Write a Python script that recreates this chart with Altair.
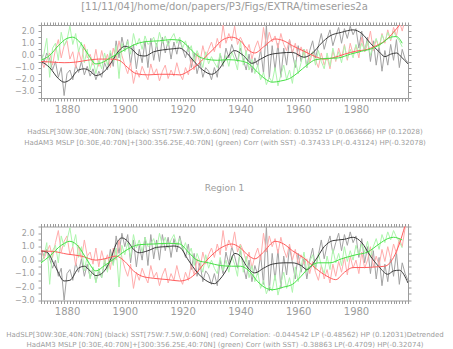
import altair as alt
import pandas as pd

years = list(range(1871, 1999))
green_years = list(range(1871, 1997))

# ---------------- Panel 1 (annual values) ----------------
p1_black = [0.3, -0.6, 0.2, -0.3, -1.2, -0.5, -1.8, -1.0, -3.3, -1.5,
            -1.2, -2.0, -0.8, -1.4, -0.5, -1.6, -0.9, -1.7, -1.1, -2.0,
            -1.3, -1.8, -0.6, -1.2, 0.2, -0.9, 1.2, -0.2, 1.5, 0.4,
            1.3, -0.8, 0.9, -1.1, 0.5, -0.6, 1.2, -1.0, 1.4, -0.4,
            1.0, -0.5, 1.5, 0.2, 1.2, -0.3, 1.1, 0.1, 1.3, 0.5,
            -0.2, 0.8, -1.0, 0.2, -1.5, -0.5, -1.8, -1.0, -1.3, -2.0,
            -1.0, -1.8, 0.1, -0.9, 0.6, -0.2, 0.9, 0.2, -0.5, 0.6,
            -0.3, -1.2, 0.1, -1.4, -0.2, -0.9, 0.5, -1.5, 2.5, -1.9,
            0.8, -1.2, 1.0, -1.8, 0.6, -0.8, 1.3, 0.2, -1.0, 0.8,
            -0.5, 0.5, -1.0, 0.4, 1.2, -0.2, 0.8, 1.8, 0.5, 1.4,
            2.1, 0.8, 1.6, 2.3, 1.0, 2.2, 1.4, 2.4, 1.7, 2.2,
            0.6, 2.0, 0.3, 1.5, -0.5, 1.2, -0.8, 0.8, -1.3, 0.4,
            -0.8, 0.9, -0.4, 1.3, -1.0, 0.5, -0.3, -0.6]
p1_red = [-0.3, -1.0, -0.4, 0.2, -0.8, 0.5, 1.3, -0.2, 0.8, 1.2,
          -0.3, 0.3, -1.0, 0.4, -0.5, 0.9, -0.2, 0.1, -0.8, 0.5,
          -0.9, 0.4, -0.6, 0.1, -1.0, 0.6, -0.3, 1.2, 0.0, -0.8,
          -1.5, -0.6, -2.3, -1.2, -1.8, -0.9, -1.5, -2.0, -0.7, -1.6,
          -1.1, -2.1, -1.3, -0.8, -1.9, -1.2, -1.7, -0.6, -1.5, -2.0,
          -1.0, -1.6, -0.3, -1.2, 0.2, -0.6, 0.8, -0.2, 0.5, 1.1,
          0.3, 1.4, 0.6, 2.5, 1.0, 1.8, 1.2, 2.4, 0.9, 1.5,
          1.0, 0.2, 0.9, -0.3, 0.6, 1.2, 0.3, 2.3, 0.8, 1.9,
          1.1, 1.6, 0.6, 1.8, 0.9, 0.4, 1.3, 0.2, 1.0, -0.1,
          0.7, 0.0, 0.5, -0.6, 0.3, -0.4, -1.0, 0.2, -0.8, -0.1,
          -1.1, 0.4, -0.5, 0.6, -0.2, 0.9, -0.4, 1.0, 0.1, 0.8,
          -0.2, 1.5, 0.3, 0.9, 2.0, 0.4, 1.3, 0.6, 1.8, 1.0,
          2.1, 1.2, 2.3, 1.6, 2.8, 2.0, 3.0, 3.2]
p1_green = [-0.5, 0.1, 1.4, -1.8, 0.6, 1.0, -0.4, 1.9, 0.8, 1.3,
            2.4, 0.9, 1.8, 0.3, 1.1, -0.6, 0.5, -1.2, -0.3, -1.5,
            -0.4, -1.1, 0.2, -0.8, 0.4, -0.5, 0.8, -1.9, 1.0, 0.3,
            1.2, 0.1, 1.8, 0.8, 1.4, 0.5, 1.6, 0.9, 1.1, 1.5,
            0.7, 1.9, 1.0, 1.6, 0.8, 1.4, 1.8, 1.0, 1.5, 0.6,
            1.2, 0.3, 0.8, -0.5, 0.4, -0.2, -1.0, 0.3, -0.7, -0.1,
            -0.6, -1.0, 0.2, -0.8, 0.0, -0.9, 0.3, -0.3, -1.2, 1.2,
            -0.8, 0.4, -1.2, -0.3, -1.5, -0.8, -2.0, -1.4, -2.4, -1.8,
            -2.2, -1.0, -2.5, -1.6, -0.8, -2.0, -1.2, -2.3, -0.4, -1.5,
            -0.6, 0.5, -1.0, -0.2, 0.3, -0.8, 0.4, -0.5, -1.1, 0.2,
            -0.9, 0.6, -0.4, 0.3, -0.6, 0.8, -0.3, 0.5, -0.2, 0.9,
            0.2, 1.0, 0.4, 1.2, 0.0, 0.8, 1.4, 0.6, 1.7, 1.1,
            1.9, 1.3, 2.0, 1.5, 1.2, 0.7]

# smooth (low-pass) curves, panel 1
p1_black_s_years = [1871, 1874, 1877, 1879, 1881, 1884, 1886, 1888, 1890, 1892, 1895, 1898, 1900, 1902,
                    1905, 1907, 1910, 1913, 1917, 1919, 1921, 1924, 1927, 1930, 1932, 1935, 1938, 1941,
                    1944, 1947, 1950, 1954, 1958, 1962, 1965, 1968, 1971, 1975, 1979, 1982, 1985, 1988,
                    1990, 1992, 1994, 1996, 1998]
p1_black_s = [-0.5, -1.0, -1.9, -2.2, -2.0, -1.2, -1.1, -1.3, -1.65, -1.5, -0.7, 0.4, 0.75, 0.6,
              0.0, -0.05, 0.3, 0.45, 0.55, 0.6, 0.3, -0.5, -1.2, -1.55, -1.3, -0.3, 0.4, 0.0,
              -0.65, -0.3, 0.05, 0.2, 0.25, -0.15, 0.2, 1.0, 1.6, 1.9, 2.1, 1.8, 1.0, 0.3,
              -0.1, 0.1, 0.2, -0.2, -0.7]
p1_red_s_years = [1871, 1875, 1879, 1883, 1887, 1891, 1895, 1898, 1901, 1904, 1908, 1912, 1916, 1919,
                  1922, 1925, 1928, 1931, 1934, 1937, 1940, 1943, 1945, 1948, 1952, 1955, 1958, 1962,
                  1966, 1969, 1972, 1976, 1980, 1984, 1987, 1990, 1993, 1995, 1997]
p1_red_s = [-0.5, -0.55, -0.6, -0.55, -0.4, -0.3, -0.3, -0.4, -1.0, -1.5, -1.6, -1.55, -1.55, -1.6,
            -1.3, -0.8, -0.1, 0.6, 1.3, 1.5, 1.2, 0.4, 0.2, 0.7, 1.35, 1.2, 0.8, 0.35,
            -0.1, -0.3, -0.2, 0.1, 0.35, 0.5, 0.8, 1.2, 1.9, 2.5, 3.2]
p1_green_s_years = [1871, 1874, 1877, 1880, 1882, 1884, 1887, 1890, 1892, 1895, 1898, 1901, 1904, 1908,
                    1912, 1916, 1919, 1922, 1925, 1928, 1932, 1936, 1940, 1943, 1946, 1949, 1951, 1954,
                    1957, 1960, 1963, 1966, 1970, 1974, 1978, 1982, 1986, 1989, 1992, 1994, 1996]
p1_green_s = [-0.4, 0.0, 0.8, 1.4, 1.5, 1.2, 0.2, -0.7, -0.6, -0.2, 0.2, 0.6, 0.95, 1.15,
              1.2, 1.3, 1.25, 0.7, 0.0, -0.3, -0.4, -0.35, -0.45, -0.7, -1.4, -2.0, -2.2, -2.1,
              -1.9, -1.4, -0.8, -0.35, -0.25, -0.2, 0.1, 0.35, 0.6, 1.0, 1.5, 1.55, 1.0]

# ---------------- Panel 2 (detrended) ----------------
p2_black = [0.9, 0.3, 0.8, 0.1, -0.6, 0.0, -1.2, -0.6, -3.0, -1.0,
            -0.7, -1.5, -0.2, -0.9, 0.1, -1.2, -0.3, -1.3, -0.6, -1.6,
            -0.8, -1.3, -0.1, -0.7, 0.8, -0.3, 1.8, 0.5, 2.0, 1.0,
            1.9, -0.2, 1.5, -0.5, 1.1, 0.0, 1.7, -0.4, 1.9, 0.1,
            1.5, 0.0, 1.9, 0.7, 1.7, 0.2, 1.6, 0.6, 1.8, 0.9,
            0.2, 1.2, -0.7, 0.5, -1.2, -0.2, -1.6, -0.8, -1.1, -1.8,
            -1.0, -1.9, 0.0, -1.0, 0.6, -0.3, 1.0, 0.3, -0.6, 0.7,
            -0.4, -1.4, 0.0, -1.6, -0.4, -1.1, 0.4, -1.8, 2.5, -2.3,
            0.5, -1.5, 0.8, -2.1, 0.3, -1.1, 1.0, -0.2, -1.4, 0.5,
            -0.9, 0.1, -1.4, 0.0, 0.9, -0.6, 0.4, 1.5, 0.1, 1.1,
            1.8, 0.5, 1.3, 2.0, 0.7, 1.9, 1.1, 2.1, 1.3, 1.8,
            0.2, 1.6, -0.2, 1.0, -1.0, 0.7, -1.4, 0.2, -1.9, -0.3,
            -1.6, 0.2, -1.2, 0.6, -1.8, -0.2, -1.0, -1.5]
p2_red = [0.8, 0.1, 0.6, 1.1, 0.2, 1.3, 2.2, 0.6, 1.4, 1.8,
          0.4, 1.0, -0.4, 1.1, 0.1, 1.5, 0.3, 0.6, -0.3, 0.9,
          -0.5, 0.7, -0.2, 0.4, -0.7, 0.9, 0.0, 1.5, 0.2, -0.6,
          -1.2, -0.3, -2.1, -0.9, -1.5, -0.6, -1.2, -1.7, -0.4, -1.3,
          -0.9, -1.9, -1.1, -0.6, -1.7, -1.0, -1.5, -0.4, -1.3, -1.8,
          -0.9, -1.5, -0.3, -1.1, 0.1, -0.7, 0.6, -0.3, 0.4, 0.9,
          0.2, 1.2, 0.4, 2.2, 0.7, 1.5, 0.9, 2.1, 0.6, 1.2,
          0.7, -0.1, 0.6, -0.6, 0.3, 0.9, 0.0, 2.0, 0.6, 1.8,
          1.0, 1.6, 0.5, 1.7, 0.8, 0.2, 1.2, 0.0, 0.8, -0.3,
          0.4, -0.3, 0.1, -1.0, -0.1, -0.9, -1.5, -0.4, -1.4, -0.7,
          -1.7, -0.3, -1.2, -0.1, -0.9, 0.2, -1.1, 0.3, -0.6, 0.0,
          -1.0, 0.6, -0.6, 0.0, 1.0, -0.5, 0.3, -0.4, 0.8, -0.1,
          1.0, 0.1, 1.2, 0.5, 1.6, 1.0, 2.4, 2.8]
p2_green = [-0.3, 0.3, 1.3, -1.8, 0.7, 1.1, -0.2, 1.8, 1.0, 1.5,
            2.4, 1.0, 1.9, 0.2, 1.0, -0.8, 0.3, -1.4, -0.5, -1.7,
            -0.6, -1.3, 0.1, -0.9, 0.5, -0.4, 0.9, -2.0, 1.1, 0.4,
            1.3, 0.2, 1.9, 0.9, 1.5, 0.6, 1.7, 1.0, 1.2, 1.6,
            0.8, 2.0, 1.1, 1.7, 0.9, 1.5, 1.9, 1.1, 1.6, 0.7,
            1.3, 0.4, 0.9, -0.4, 0.5, -0.1, -0.9, 0.4, -0.6, 0.0,
            -0.6, -1.0, 0.2, -0.8, 0.0, -0.9, 0.3, -0.3, -1.2, 1.1,
            -0.9, 0.3, -1.3, -0.4, -1.6, -0.9, -2.1, -1.5, -2.5, -1.9,
            -2.3, -1.1, -2.6, -1.7, -0.9, -2.1, -1.3, -2.4, -0.5, -1.6,
            -0.5, 0.6, -0.9, -0.1, 0.4, -0.7, 0.5, -0.4, -1.0, 0.3,
            -0.7, 0.8, -0.2, 0.5, -0.4, 1.0, -0.1, 0.7, 0.0, 1.1,
            0.4, 1.2, 0.6, 1.4, 0.2, 1.0, 1.6, 0.8, 1.9, 1.3,
            2.1, 1.5, 2.2, 1.7, 1.4, 0.9]

p2_black_s_years = [1871, 1873, 1876, 1879, 1881, 1884, 1886, 1888, 1890, 1892, 1895, 1897, 1899, 1901,
                    1903, 1905, 1908, 1911, 1914, 1917, 1919, 1922, 1925, 1928, 1931, 1933, 1936, 1938,
                    1940, 1942, 1945, 1948, 1951, 1955, 1958, 1961, 1963, 1966, 1969, 1972, 1976, 1979,
                    1982, 1985, 1988, 1991, 1993, 1995, 1998]
p2_black_s = [0.68, 0.6, -0.5, -1.55, -1.5, -0.6, -0.45, -0.8, -1.15, -1.0, 0.0, 1.2, 1.65, 1.4,
              0.8, 0.55, 0.7, 0.95, 1.0, 1.05, 0.95, 0.0, -0.9, -1.5, -1.75, -1.4, -0.4, 0.5,
              0.3, -0.4, -0.95, -0.6, -0.3, -0.2, -0.2, -0.4, -0.7, 0.0, 1.0, 1.45, 1.55, 1.7,
              1.3, 0.3, -0.5, -1.05, -0.8, -0.75, -1.7]
p2_red_s_years = [1871, 1875, 1880, 1885, 1890, 1893, 1897, 1900, 1903, 1906, 1910, 1915, 1919, 1922,
                  1925, 1928, 1931, 1934, 1937, 1940, 1943, 1945, 1948, 1952, 1955, 1958, 1962, 1966,
                  1970, 1973, 1976, 1979, 1983, 1987, 1990, 1993, 1995, 1997]
p2_red_s = [0.68, 0.65, 0.45, 0.3, 0.0, 0.1, 0.3, -0.1, -0.8, -1.2, -1.35, -1.45, -1.55, -1.4,
            -0.9, -0.1, 0.55, 1.0, 1.2, 0.9, 0.3, 0.1, 0.6, 1.4, 1.2, 0.7, 0.15, -0.6,
            -1.2, -1.45, -0.9, -0.55, -0.55, -0.5, -0.45, 0.2, 1.2, 2.6]
p2_green_s_years = [1871, 1874, 1878, 1881, 1884, 1887, 1890, 1893, 1897, 1901, 1905, 1910, 1915, 1919,
                    1922, 1925, 1929, 1933, 1937, 1940, 1943, 1946, 1949, 1951, 1955, 1958, 1961, 1964,
                    1967, 1971, 1975, 1980, 1984, 1988, 1991, 1993, 1996]
p2_green_s = [-0.2, 0.3, 1.1, 1.4, 1.0, 0.0, -0.8, -0.4, 0.2, 0.8, 1.15, 1.2, 1.25, 1.2,
              0.6, 0.0, -0.2, -0.4, -0.45, -0.45, -0.8, -1.6, -2.1, -2.2, -2.0, -1.8, -1.2, -0.5,
              -0.2, -0.2, 0.1, 0.4, 0.6, 1.2, 1.6, 1.7, 1.5]

title_text = "[11/11/04]/home/don/papers/P3/Figs/EXTRA/timeseries2a"
region_text = "Region 1"
cap1 = ["HadSLP[30W:30E,40N:70N] (black) SST[75W:7.5W,0:60N] (red) Correlation: 0.10352 LP (0.063666) HP (0.12028)",
        "HadAM3 MSLP [0:30E,40:70N]+[300:356.25E,40:70N] (green) Corr (with SST) -0.37433 LP(-0.43124) HP(-0.32078)"]
cap2 = ["HadSLP[30W:30E,40N:70N] (black) SST[75W:7.5W,0:60N] (red) Correlation: -0.044542 LP (-0.48562) HP (0.12031)Detrended",
        "HadAM3 MSLP [0:30E,40:70N]+[300:356.25E,40:70N] (green) Corr (with SST) -0.38863 LP(-0.4709) HP(-0.32074)"]

series_names = ["black", "red", "green", "black LP", "red LP", "green LP"]
series_colors = ["#a2a2a2", "#ffacac", "#adf5ad", "#3a3a3a", "#ff5c5c", "#45e045"]

GRAY = "#9c9c9c"
FONT = "DejaVu Sans"


def long_noisy(b, r, g):
    rows = []
    for y, v in zip(years, b):
        rows.append({"year": y, "value": v, "series": "black"})
    for y, v in zip(years, r):
        rows.append({"year": y, "value": v, "series": "red"})
    for y, v in zip(green_years, g):
        rows.append({"year": y, "value": v, "series": "green"})
    return pd.DataFrame(rows)


def long_smooth(by, b, ry, r, gy, g):
    rows = []
    for y, v in zip(by, b):
        rows.append({"year": y, "value": v, "series": "black LP"})
    for y, v in zip(ry, r):
        rows.append({"year": y, "value": v, "series": "red LP"})
    for y, v in zip(gy, g):
        rows.append({"year": y, "value": v, "series": "green LP"})
    return pd.DataFrame(rows)


cscale = alt.Scale(domain=series_names, range=series_colors)


def panel(noisy, smooth, ydom, height, title, title_size, title_offset, caps, ytick_vals):
    xs = alt.Scale(domain=[1871, 1998], nice=False, zero=False)
    ys = alt.Scale(domain=ydom, nice=False, zero=False)
    xaxis_b = alt.Axis(values=years, format="d",
                       labelExpr="datum.value % 20 === 0 ? datum.label : ''",
                       labelOverlap=False, labelFontSize=10, labelPadding=3,
                       tickSize=3, title=caps, titleFontSize=7, titleLineHeight=10.5,
                       titlePadding=13.5, titleFontWeight="normal")
    yaxis_l = alt.Axis(values=ytick_vals,
                       labelExpr="datum.value % 1 === 0 ? format(datum.value, '.1f') : ''",
                       labelOverlap=False, labelFontSize=8, labelPadding=4, tickSize=3, title=None)
    xaxis_t = alt.Axis(orient="top", values=years, labels=False, tickSize=3, title=None)
    yaxis_r = alt.Axis(orient="right", values=ytick_vals, labels=False, tickSize=3, title=None)

    noisy_layer = alt.Chart(noisy).mark_line(strokeWidth=1, clip=True).encode(
        x=alt.X("year:Q", scale=xs, axis=xaxis_b),
        y=alt.Y("value:Q", scale=ys, axis=yaxis_l),
        color=alt.Color("series:N", scale=cscale, legend=None),
    )
    smooth_layer = alt.Chart(smooth).mark_line(strokeWidth=1, interpolate="monotone", clip=True).encode(
        x=alt.X("year:Q", scale=xs, axis=None),
        y=alt.Y("value:Q", scale=ys, axis=None),
        color=alt.Color("series:N", scale=cscale, legend=None),
    )
    frame_layer = alt.Chart(smooth).mark_line(opacity=0, clip=True).encode(
        x=alt.X("year:Q", scale=xs, axis=xaxis_t),
        y=alt.Y("value:Q", scale=ys, axis=yaxis_r),
        detail="series:N",
    )
    return alt.layer(noisy_layer, smooth_layer, frame_layer).resolve_axis(
        x="independent", y="independent"
    ).properties(
        width=367, height=height,
        title=alt.TitleParams(text=title, fontSize=title_size,
                              font=FONT, color=GRAY, fontWeight="normal",
                              anchor="middle", offset=title_offset),
    )


p1 = panel(long_noisy(p1_black, p1_red, p1_green),
           long_smooth(p1_black_s_years, p1_black_s, p1_red_s_years, p1_red_s, p1_green_s_years, p1_green_s),
           [-3.5, 2.5], 73, title_text, 10, 9, cap1,
           [-3.5, -3.0, -2.5, -2.0, -1.5, -1.0, -0.5, 0.0, 0.5, 1.0, 1.5, 2.0, 2.5])
p2 = panel(long_noisy(p2_black, p2_red, p2_green),
           long_smooth(p2_black_s_years, p2_black_s, p2_red_s_years, p2_red_s, p2_green_s_years, p2_green_s),
           [-3.0, 2.5], 74, region_text, 9, 30, cap2,
           [-3.0, -2.5, -2.0, -1.5, -1.0, -0.5, 0.0, 0.5, 1.0, 1.5, 2.0, 2.5])

chart = alt.vconcat(p1, p2, spacing=38.5).properties(
    padding={"left": 5, "top": 2, "right": 5, "bottom": 2},
    background="white",
).configure_view(stroke=None).configure_axis(
    domainColor=GRAY, tickColor=GRAY, labelColor=GRAY, titleColor=GRAY,
    labelFont=FONT, titleFont=FONT, grid=False, domainWidth=1, tickWidth=1,
)

chart.save("out.html", embed_options={"renderer": "svg", "actions": False})
